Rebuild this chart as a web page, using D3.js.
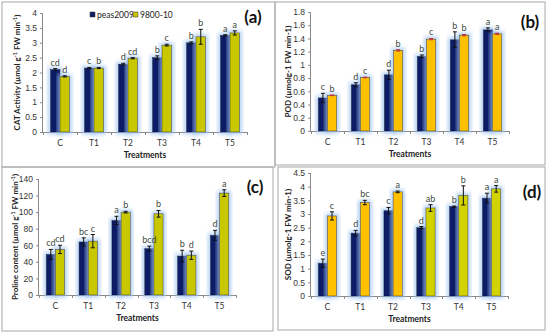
<!DOCTYPE html>
<html>
<head>
	<meta charset="utf-8" />
	<title>Antioxidant enzymes</title>
	<script src="https://cdn.jsdelivr.net/npm/d3@7"></script>
	<style>
		body, html { margin: 0; background: #fff; }
		svg { font-family: Lato, "Open Sans", sans-serif; }
		.tick text { fill: #333; font-size: 8.5px; }
		.ytitle, .xtitle { font-weight: bold; fill: #222; }
	</style>
</head>
<body>
	<svg id="chart" width="550" height="335"></svg>
	<script>
		var treatments = ["C", "T1", "T2", "T3", "T4", "T5"];
		var seriesNames = ["peas2009", "9800-10"];

		// (a) CAT
		var catPeas = [2.10, 2.15, 2.28, 2.50, 3.00, 3.25];
		var catPeasErr = [0.03, 0.02, 0.03, 0.06, 0.03, 0.02];
		var cat9800 = [1.87, 2.15, 2.48, 2.92, 3.20, 3.33];
		var cat9800Err = [0.02, 0.02, 0.02, 0.03, 0.25, 0.07];
		var catLetters = [["cd", "c", "d", "b", "b", "a"], ["d", "b", "cd", "c", "b", "a"]];
		var catTicks = [0, 0.5, 1, 1.5, 2, 2.5, 3, 3.5, 4];

		// (b) POD
		var podPeas = [0.50, 0.70, 0.85, 1.13, 1.38, 1.53];
		var podPeasErr = [0.07, 0.03, 0.07, 0.02, 0.12, 0.03];
		var pod9800 = [0.54, 0.81, 1.22, 1.39, 1.45, 1.47];
		var pod9800Err = [0.005, 0.005, 0.01, 0.01, 0.01, 0.01];
		var podLetters = [["c", "d", "d", "b", "b", "a"], ["b", "c", "b", "c", "b", "a"]];
		var podTicks = [0, 0.2, 0.4, 0.6, 0.8, 1, 1.2, 1.4, 1.6, 1.8];

		// (c) Proline
		var proPeas = [49, 64, 90, 56, 47, 72];
		var proPeasErr = [6, 5, 5, 3, 7, 6];
		var pro9800 = [55, 65, 100, 98, 48, 123];
		var pro9800Err = [5, 8, 1, 4, 5, 4];
		var proLetters = [["cd", "bc", "a", "bcd", "b", "d"], ["cd", "c", "b", "b", "d", "a"]];
		var proTicks = [0, 20, 40, 60, 80, 100, 120, 140];

		// (d) SOD
		var sodPeas = [1.20, 2.30, 3.12, 2.50, 3.27, 3.58];
		var sodPeasErr = [0.15, 0.10, 0.12, 0.04, 0.02, 0.18];
		var sod9800 = [2.93, 3.42, 3.81, 3.22, 3.68, 3.92];
		var sod9800Err = [0.15, 0.08, 0.03, 0.12, 0.35, 0.12];
		var sodLetters = [["e", "d", "c", "d", "b", "a"], ["c", "bc", "a", "ab", "b", "a"]];
		var sodTicks = [0, 0.5, 1, 1.5, 2, 2.5, 3, 3.5, 4, 4.5];

		var navy = "#101c66";
		var olive = "#c9c800";
		var amber = "#ffc000";

		var svg = d3.select("#chart");

		// light blue glow behind the bars
		var defs = svg.append("defs");
		var f = defs.append("filter").attr("id", "glow")
			.attr("x", "-40%").attr("y", "-20%").attr("width", "180%").attr("height", "140%");
		f.append("feMorphology").attr("in", "SourceAlpha").attr("operator", "dilate").attr("radius", 1.5).attr("result", "d");
		f.append("feGaussianBlur").attr("in", "d").attr("stdDeviation", 2).attr("result", "b");
		f.append("feFlood").attr("flood-color", "#9ec3f0").attr("flood-opacity", 0.8);
		f.append("feComposite").attr("in2", "b").attr("operator", "in").attr("result", "g");
		var m = f.append("feMerge");
		m.append("feMergeNode").attr("in", "g");
		m.append("feMergeNode").attr("in", "SourceGraphic");

		// panel frames
		var frames = [[2, 2, 273, 165], [275, 2, 270, 163], [2, 167, 271, 164], [278, 167, 267, 163]];
		frames.forEach(function (r) {
			svg.append("rect").attr("x", r[0]).attr("y", r[1]).attr("width", r[2]).attr("height", r[3])
				.attr("fill", "none").attr("stroke", "#a8a8a8").attr("stroke-width", 1);
		});

		function drawPanel(p) {
			var x = d3.scaleBand().domain(treatments).range([p.left, p.right]).paddingInner(0.44).paddingOuter(0.22);
			var inner = d3.scaleBand().domain([0, 1]).range([0, x.bandwidth()]);
			var y = d3.scaleLinear().domain([0, p.ticks[p.ticks.length - 1]]).range([p.bottom, p.top]);

			var yAxis = d3.axisLeft(y).tickValues(p.ticks).tickSize(3).tickFormat(d3.format("~g"));
			var ga = svg.append("g").attr("transform", "translate(" + p.left + ",0)").call(yAxis);
			ga.selectAll("path, line").attr("stroke", "#8a8a8a");
			ga.select(".domain").attr("d", "M-0.5," + p.bottom + "V" + p.top);

			// x axis with ticks between categories
			var gx = svg.append("g");
			gx.append("line").attr("x1", p.left).attr("x2", p.right).attr("y1", p.bottom + 0.5).attr("y2", p.bottom + 0.5).attr("stroke", "#8a8a8a");
			var step = x.step();
			d3.range(treatments.length + 1).forEach(function (i) {
				var xx = Math.round(p.left + i * (p.right - p.left) / treatments.length) + 0.5;
				gx.append("line").attr("x1", xx).attr("x2", xx).attr("y1", p.bottom).attr("y2", p.bottom + 3).attr("stroke", "#8a8a8a");
			});
			gx.selectAll("text.cat").data(treatments).enter().append("text")
				.attr("x", function (d) { return x(d) + x.bandwidth() / 2; })
				.attr("y", p.bottom + 14)
				.attr("text-anchor", "middle").attr("font-size", 8.5).attr("fill", "#333")
				.text(function (d) { return d; });

			var series = [
				{ v: p.peas, e: p.peasErr, color: function () { return navy; }, stroke: "#0a1040" },
				{ v: p.other, e: p.otherErr, color: p.otherColor, stroke: "#4a4a10" }
			];

			series.forEach(function (s, si) {
				var g = svg.append("g");
				g.selectAll("rect").data(s.v).enter().append("rect")
					.attr("x", function (d, i) { return x(treatments[i]) + inner(si); })
					.attr("width", inner.bandwidth())
					.attr("y", function (d) { return y(d); })
					.attr("height", function (d) { return p.bottom - y(d); })
					.attr("fill", function (d, i) { return s.color(i); })
					.attr("stroke", s.stroke).attr("stroke-width", 0.6)
					.attr("filter", "url(#glow)");
			});

			series.forEach(function (s, si) {
				var g = svg.append("g");
				s.v.forEach(function (d, i) {
					var cx = x(treatments[i]) + inner(si) + inner.bandwidth() / 2;
					var hi = y(d + s.e[i]), lo = y(d - s.e[i]);
					var ec = (si === 1 && p.redCaps) ? "#c0303a" : "#111";
					g.append("line").attr("x1", cx).attr("x2", cx).attr("y1", hi).attr("y2", lo).attr("stroke", ec).attr("stroke-width", 1);
					g.append("line").attr("x1", cx - 2).attr("x2", cx + 2).attr("y1", hi).attr("y2", hi).attr("stroke", ec).attr("stroke-width", 1);
					g.append("line").attr("x1", cx - 2).attr("x2", cx + 2).attr("y1", lo).attr("y2", lo).attr("stroke", ec).attr("stroke-width", 1);
					g.append("text").attr("x", cx).attr("y", hi - 3)
						.attr("text-anchor", "middle").attr("font-size", 9).attr("fill", "#3d4a40")
						.text(p.letters[si][i]);
				});
			});

			svg.append("text").attr("class", "xtitle")
				.attr("x", (p.left + p.right) / 2).attr("y", p.bottom + 26)
				.attr("text-anchor", "middle").attr("font-size", 8.5).text("Treatments");

			var yt = svg.append("text").attr("class", "ytitle")
				.attr("transform", "translate(" + p.titleX + "," + ((p.top + p.bottom) / 2) + ") rotate(-90)")
				.attr("text-anchor", "middle").attr("font-size", 8);
			p.title.forEach(function (part) {
				var t = yt.append("tspan").text(part[0]);
				if (part[1]) t.attr("baseline-shift", "super").attr("font-size", 5.5);
			});

			svg.append("text").attr("x", p.labelX).attr("y", p.labelY)
				.attr("text-anchor", "middle").attr("font-size", 17).attr("font-weight", "bold").attr("fill", "#111")
				.text(p.label);
		}

		drawPanel({
			left: 43, right: 247, top: 13, bottom: 132, ticks: catTicks,
			peas: catPeas, peasErr: catPeasErr, other: cat9800, otherErr: cat9800Err,
			otherColor: function () { return olive; }, letters: catLetters,
			title: [["CAT Activity (µmol g"], ["-1", true], [" FW min"], ["-1", true], [")"]],
			titleX: 20, label: "(a)", labelX: 253, labelY: 23
		});
		drawPanel({
			left: 311, right: 509, top: 12, bottom: 131, ticks: podTicks,
			peas: podPeas, peasErr: podPeasErr, other: pod9800, otherErr: pod9800Err,
			otherColor: function () { return amber; }, letters: podLetters, redCaps: true,
			title: [["POD (µmolg-1 FW min-1)"]],
			titleX: 291, label: "(b)", labelX: 530, labelY: 28
		});
		drawPanel({
			left: 39, right: 236, top: 179, bottom: 295, ticks: proTicks,
			peas: proPeas, peasErr: proPeasErr, other: pro9800, otherErr: pro9800Err,
			otherColor: function () { return olive; }, letters: proLetters,
			title: [["Proline content (µmol g"], ["-1", true], [" FW min"], ["-1", true], [")"]],
			titleX: 18, label: "(c)", labelX: 255, labelY: 193
		});
		drawPanel({
			left: 311, right: 508, top: 173, bottom: 296, ticks: sodTicks,
			peas: sodPeas, peasErr: sodPeasErr, other: sod9800, otherErr: sod9800Err,
			otherColor: function (i) { return i < 3 ? amber : "#d2d200"; }, letters: sodLetters,
			title: [["SOD (µmolg-1 FW min-1)"]],
			titleX: 291, label: "(d)", labelX: 532, labelY: 198
		});

		// legend in panel (a)
		var lg = svg.append("g").attr("font-size", 8.5).attr("fill", "#222");
		var legendX = [90, 133];
		seriesNames.forEach(function (n, i) {
			lg.append("rect").attr("x", legendX[i]).attr("y", 12).attr("width", 5).attr("height", 5)
				.attr("fill", i === 0 ? navy : olive).attr("stroke", "#333").attr("stroke-width", 0.5);
			lg.append("text").attr("x", legendX[i] + 7).attr("y", 17.5).text(n);
		});
	</script>
</body>
</html>
